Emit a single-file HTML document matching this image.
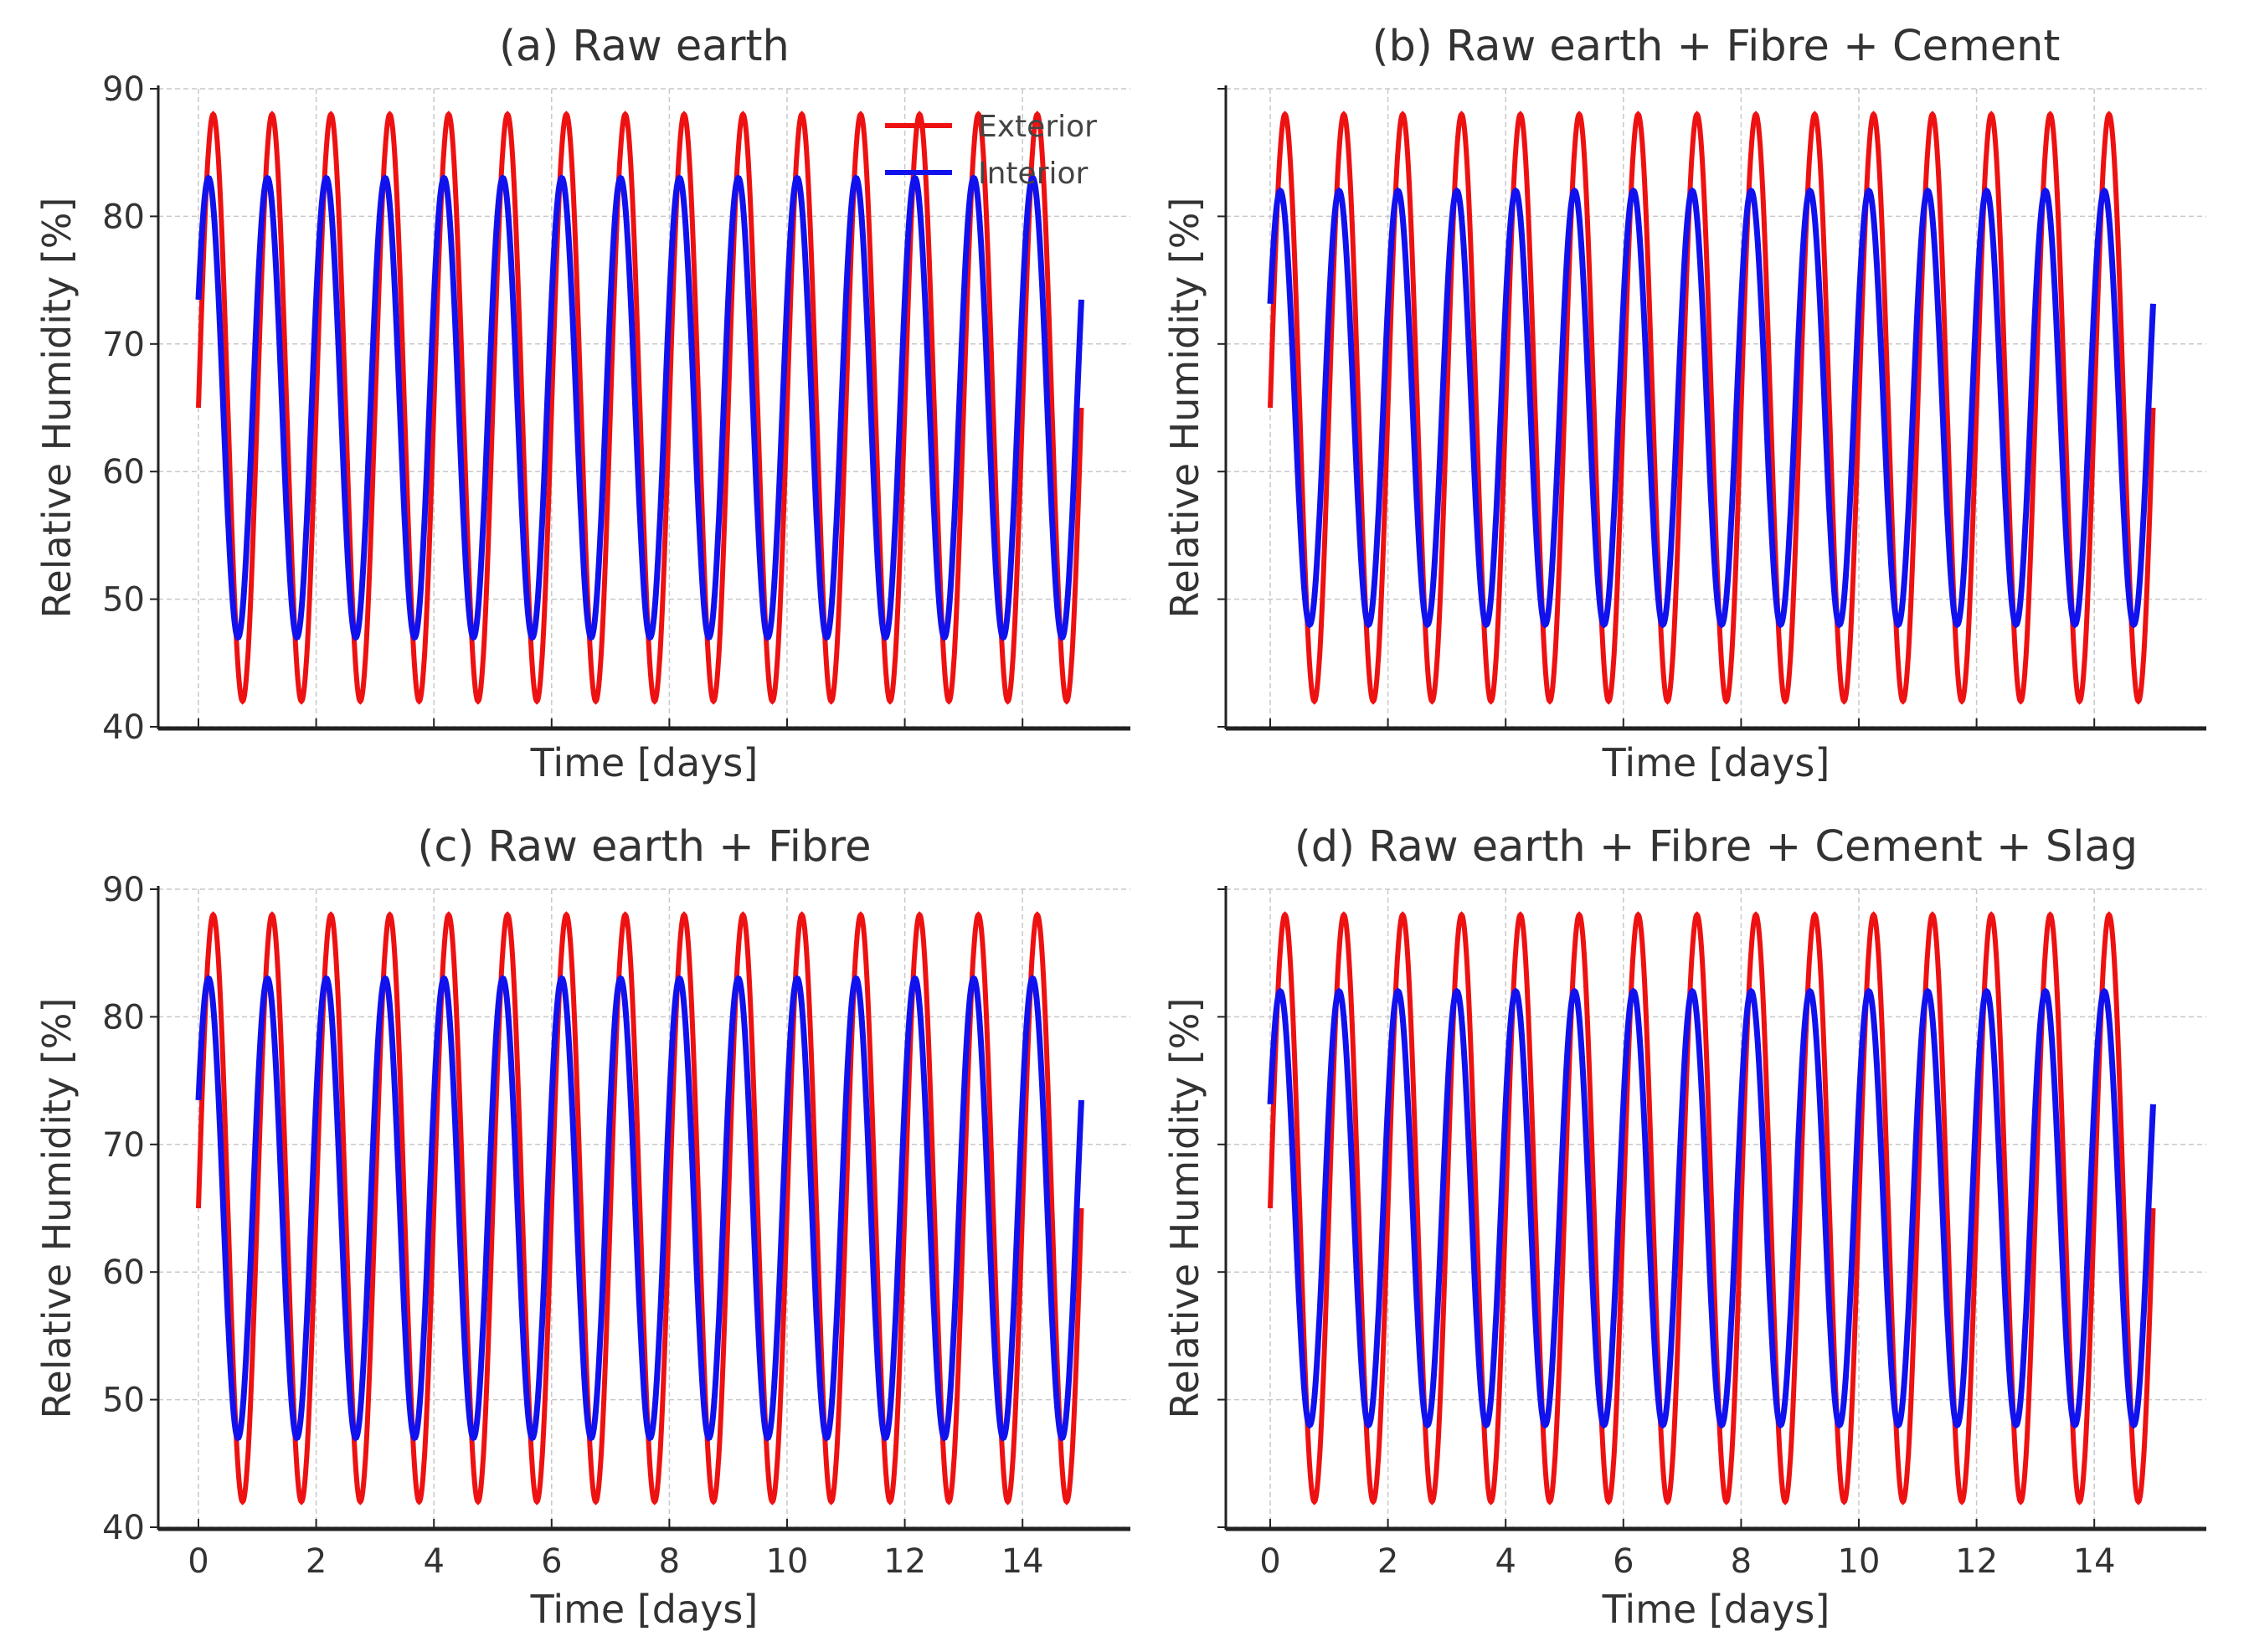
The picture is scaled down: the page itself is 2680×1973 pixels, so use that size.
<!DOCTYPE html>
<html><head><meta charset="utf-8"><style>
html,body{margin:0;padding:0;background:#fff;}
svg{display:block;font-family:"DejaVu Sans","Liberation Sans",sans-serif;}
</style></head><body>
<svg id="fig" width="2680" height="1973" viewBox="0 0 2680 1973" xmlns="http://www.w3.org/2000/svg"></svg>
<script>
// ---- data ----
const panelTitles = ["(a) Raw earth", "(b) Raw earth + Fibre + Cement", "(c) Raw earth + Fibre", "(d) Raw earth + Fibre + Cement + Slag"];
const exteriorMean = [65, 65, 65, 65];
const exteriorAmp = [23, 23, 23, 23];
const interiorMean = [65, 65, 65, 65];
const interiorAmp = [18, 17, 18, 17];
const interiorPhase = [0.49, 0.5, 0.49, 0.5]; // radians lead
const periodDays = [1, 1, 1, 1];
const xTicks = [0, 2, 4, 6, 8, 10, 12, 14];
const yTicks = [40, 50, 60, 70, 80, 90];
const tEnd = 15;

const svg = document.getElementById('fig');
const NS = 'http://www.w3.org/2000/svg';
function el(tag, attrs, parent) {
  const e = document.createElementNS(NS, tag);
  for (const k in attrs) e.setAttribute(k, attrs[k]);
  (parent || svg).appendChild(e);
  return e;
}
const layouts = [
  {left: 189, right: 1350, x0: 237, top: 106, bottom: 868, col: 0, row: 0},
  {left: 1464, right: 2635, x0: 1517, top: 106, bottom: 868, col: 1, row: 0},
  {left: 189, right: 1350, x0: 237, top: 1062, bottom: 1824, col: 0, row: 1},
  {left: 1464, right: 2635, x0: 1517, top: 1062, bottom: 1824, col: 1, row: 1}
];
const dayW = 70.3;

layouts.forEach((L, i) => {
  const g = el('g', {});
  
  
  const xs = t => L.x0 + t * dayW;
  const ys = v => L.bottom - (v - 40) * (L.bottom - L.top) / 50;
  xTicks.forEach(t => {
    const ln = el('line', {x1: xs(t), x2: xs(t), y1: L.top, y2: L.bottom, stroke: '#c8c8c8', 'stroke-width': 1.5, 'stroke-dasharray': '6,4'}, g);
    
    
  });
  yTicks.forEach(v => {
    const ln = el('line', {x1: L.left, x2: L.right, y1: ys(v), y2: ys(v), stroke: '#c8c8c8', 'stroke-width': 1.5, 'stroke-dasharray': '6,4'}, g);
    
    
    const tk = el('line', {x1: L.left - 10, x2: L.left, y1: ys(v), y2: ys(v), stroke: '#222', 'stroke-width': 2}, g);
    
    
    if (L.col === 0) {
      const tx = el('text', {x: L.left - 16, y: ys(v) + 14, 'text-anchor': 'end', 'font-size': 40, fill: '#333'}, g);
      tx.textContent = v;
      
      
    }
  });
  const N = 1500;
  let pe = '', pi = '';
  for (let k = 0; k <= N; k++) {
    const t = tEnd * k / N;
    const w = 2 * Math.PI * t / periodDays[i];
    const ve = exteriorMean[i] + exteriorAmp[i] * Math.sin(w);
    const vi = interiorMean[i] + interiorAmp[i] * Math.sin(w + interiorPhase[i]);
    pe += (k ? 'L' : 'M') + xs(t).toFixed(1) + ',' + ys(ve).toFixed(1);
    pi += (k ? 'L' : 'M') + xs(t).toFixed(1) + ',' + ys(vi).toFixed(1);
  }
  const le = el('path', {d: pe, fill: 'none', stroke: '#ee1111', 'stroke-width': 6}, g);
  
  
  const li = el('path', {d: pi, fill: 'none', stroke: '#1111ee', 'stroke-width': 7}, g);
  
  
  const sl = el('line', {x1: L.left, x2: L.left, y1: L.top - 4, y2: L.bottom + 3, stroke: '#222', 'stroke-width': 3}, g);
  
  
  const sb = el('line', {x1: L.left, x2: L.right, y1: L.bottom + 2, y2: L.bottom + 2, stroke: '#222', 'stroke-width': 5}, g);
  
  
  xTicks.forEach(t => {
    const tk = el('line', {x1: xs(t), x2: xs(t), y1: L.bottom - 10, y2: L.bottom + 2, stroke: '#222', 'stroke-width': 2}, g);
    
    
    if (L.row === 1) {
      const tx = el('text', {x: xs(t), y: L.bottom + 54, 'text-anchor': 'middle', 'font-size': 40, fill: '#333'}, g);
      tx.textContent = t;
      
      
    }
  });
  const cx = (L.left + L.right) / 2;
  const ti = el('text', {x: cx, y: L.top - 34, 'text-anchor': 'middle', 'font-size': 51, fill: '#333'}, g);
  ti.textContent = panelTitles[i];
  
  
  const xl = el('text', {x: cx, y: L.row === 0 ? 927 : 1938, 'text-anchor': 'middle', 'font-size': 46, fill: '#333'}, g);
  xl.textContent = 'Time [days]';
  
  
  const yc = (L.top + L.bottom) / 2;
  const yxl = L.col === 0 ? 84 : 1431;
  const yl = el('text', {x: yxl, y: yc, 'text-anchor': 'middle', 'font-size': 46, fill: '#333', transform: 'rotate(-90 ' + yxl + ' ' + yc + ')'}, g);
  yl.textContent = 'Relative Humidity [%]';
  
  
});

const lg = el('g', {});


[['Exterior', '#ee1111', 150], ['Interior', '#1111ee', 206]].forEach(([lab, col, y]) => {
  const ln = el('line', {x1: 1057, x2: 1137, y1: y, y2: y, stroke: col, 'stroke-width': 6}, lg);
  
  
  const tx = el('text', {x: 1168, y: y + 13, 'font-size': 36, fill: '#444'}, lg);
  tx.textContent = lab;
  
  
});
</script>
</body></html>
